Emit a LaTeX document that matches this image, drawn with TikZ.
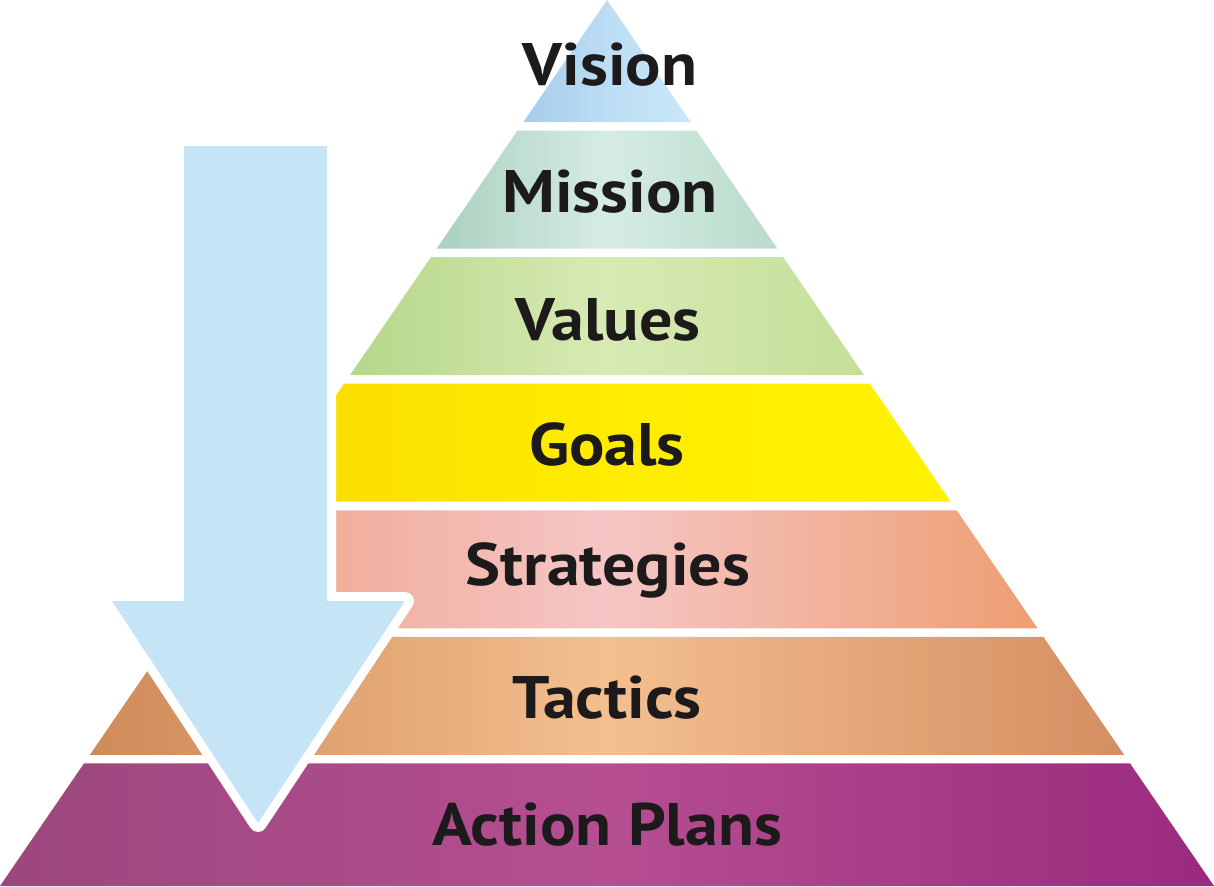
\documentclass[tikz,border=0pt]{standalone}
\usepackage{fontspec}
\newfontfamily\tierfont{PT Sans}[FakeStretch=1.1]
\usetikzlibrary{positioning}

\definecolor{visionL}{HTML}{A6CDEC}
\definecolor{visionM}{HTML}{BCDDF4}
\definecolor{visionR}{HTML}{C9E7F9}
\definecolor{missionL}{HTML}{AAD0BF}
\definecolor{missionM}{HTML}{D6ECE3}
\definecolor{missionR}{HTML}{B9DBCB}
\definecolor{valuesL}{HTML}{B5D78A}
\definecolor{valuesM}{HTML}{D8EAB4}
\definecolor{valuesR}{HTML}{C3DF98}
\definecolor{goalsL}{HTML}{FADB00}
\definecolor{goalsM}{HTML}{FFEC00}
\definecolor{goalsR}{HTML}{FFF200}
\definecolor{stratL}{HTML}{EEA084}
\definecolor{stratM}{HTML}{F5C6C6}
\definecolor{stratR}{HTML}{EE9E72}
\definecolor{tacticsL}{HTML}{CF8A58}
\definecolor{tacticsM}{HTML}{F4BF8F}
\definecolor{tacticsR}{HTML}{D48E62}
\definecolor{actionL}{HTML}{9B477D}
\definecolor{actionM}{HTML}{B64E91}
\definecolor{actionR}{HTML}{9A2A7E}
\definecolor{arrowblue}{HTML}{C5E5F7}
\definecolor{tiertext}{HTML}{1C1A1B}

\tikzset{
  tierlabel/.style={font=\tierfont\bfseries\fontsize{60}{66}\selectfont,
    text=tiertext, anchor=base, inner sep=0pt},
  downarrow/.style={fill=arrowblue, preaction={draw=white, line width=18pt, line join=round}}
}

\begin{document}
\begin{tikzpicture}[x=1pt,y=-1pt]
        \useasboundingbox (0,0) rectangle (1214,886);
        % tiers of the pyramid, apex (607,0), base 0..1214
        \foreach \t/\b/\cl/\cm/\cr in {0/122/visionL/visionM/visionR,
                130.6/248.5/missionL/missionM/missionR,
                257.1/375.1/valuesL/valuesM/valuesR,
                383.7/501.7/goalsL/goalsM/goalsR,
                510.3/628.3/stratL/stratM/stratR,
                636.9/754.9/tacticsL/tacticsM/tacticsR,
                763.4/886/actionL/actionM/actionR} {
            \pgfmathsetmacro\tl{607-0.6851*\t}
            \pgfmathsetmacro\tr{607+0.6851*\t}
            \pgfmathsetmacro\bl{607-0.6851*\b}
            \pgfmathsetmacro\br{607+0.6851*\b}
            \shade[left color=\cl, right color=\cr, middle color=\cm]
                (\tl,\t) -- (\tr,\t) -- (\br,\b) -- (\bl,\b) -- cycle;
        }
        \node[tierlabel] (vision) at (610,85) {Vision};
        \node[tierlabel] (mission) at (610,212) {Mission};
        \node[tierlabel] (values) at (608,340) {Values};
        \node[tierlabel] (goals) at (607,465) {Goals};
        \node[tierlabel] (strategies) at (608,585) {Strategies};
        \node[tierlabel] (tactics) at (607,718) {Tactics};
        \node[tierlabel] (actionplans) at (607,845) {Action Plans};
        % the big arrow on the left
        \fill[downarrow] (184,146) -- (327,146) -- (327,601) -- (405,601)
            -- (258,823) -- (112,601) -- (184,601) -- cycle;
\end{tikzpicture}
\end{document}
